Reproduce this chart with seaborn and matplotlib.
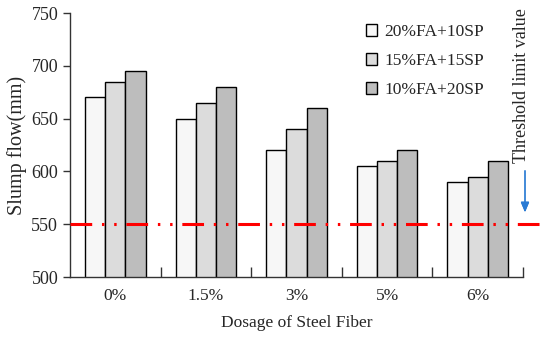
import seaborn as sns
import matplotlib.pyplot as plt
import pandas as pd

dosage = ["0%", "1.5%", "3%", "5%", "6%"]
mixes = ["20%FA+10SP", "15%FA+15SP", "10%FA+20SP"]
fa20_sp10 = [670, 650, 620, 605, 590]
fa15_sp15 = [685, 665, 640, 610, 595]
fa10_sp20 = [695, 680, 660, 620, 610]
threshold = 550

colors = ["#f7f7f7", "#dcdcdc", "#bdbdbd"]
font_size = 12.5

rows = []
for mix, vals in zip(mixes, [fa20_sp10, fa15_sp15, fa10_sp20]):
    for d, v in zip(dosage, vals):
        rows.append({"dosage": d, "mix": mix, "slump": v})
df = pd.DataFrame(rows)

sns.set_style("ticks")
plt.rcParams['font.family'] = ['Liberation Serif', 'DejaVu Serif']

fig = plt.figure(figsize=(5.5, 3.39), dpi=100)
ax = fig.add_axes([70 / 550, 1 - 277 / 339, 453 / 550, 264 / 339])

sns.barplot(ax=ax, data=df, x="dosage", y="slump", hue="mix",
            hue_order=mixes, order=dosage, palette=colors,
            edgecolor="black", linewidth=1.0, width=0.667, gap=0)

ax.set_ylim(500, 750)
ax.set_yticks([500, 550, 600, 650, 700, 750])
ax.set_xlim(-0.5, 4.5)
ax.set_xticks([0.5, 1.5, 2.5, 3.5, 4.5], minor=True)
ax.tick_params(axis='x', which='major', length=0, labelsize=font_size, pad=8)
ax.tick_params(axis='x', which='minor', direction='in', length=7, width=1, color="#333333")
ax.tick_params(axis='y', direction='out', length=5, width=1, labelsize=13, color="#333333")
ax.set_xlabel("Dosage of Steel Fiber", fontsize=font_size, labelpad=8)
ax.set_ylabel("Slump flow(mm)", fontsize=14.5, labelpad=3)
for s in ['left', 'bottom']:
    ax.spines[s].set_linewidth(1.0)
    ax.spines[s].set_color("#333333")
ax.spines['top'].set_visible(False)
ax.spines['right'].set_visible(False)

# threshold line, runs a bit past the axis end
ax.axhline(threshold, xmin=0, xmax=1.049, color="#ff0000", linewidth=2.2,
           linestyle=(0, (7.1, 3.2, 0.8, 3.2, 0.8, 3.2)), clip_on=False, zorder=5)

handles, labels = ax.get_legend_handles_labels()
ax.legend(handles, labels, title=None, frameon=False, loc='upper left',
          bbox_to_anchor=(359 / 550, 1 - 17 / 339), bbox_transform=fig.transFigure,
          handlelength=0.65, handleheight=0.65, labelspacing=0.75,
          handletextpad=0.4, fontsize=font_size, borderaxespad=0)

fig.text(522 / 550, 1 - 8 / 339, "Threshold limit value", rotation=90,
         ha='center', va='top', fontsize=13)
fig.add_artist(plt.annotate("", xy=(525 / 550, 1 - 215 / 339), xycoords='figure fraction',
                            xytext=(525 / 550, 1 - 168 / 339), textcoords='figure fraction',
                            arrowprops=dict(arrowstyle='-|>,head_width=0.25,head_length=0.6',
                                            color="#2a7bd4", linewidth=0.9)))

fig.savefig("out.png", dpi=100)
